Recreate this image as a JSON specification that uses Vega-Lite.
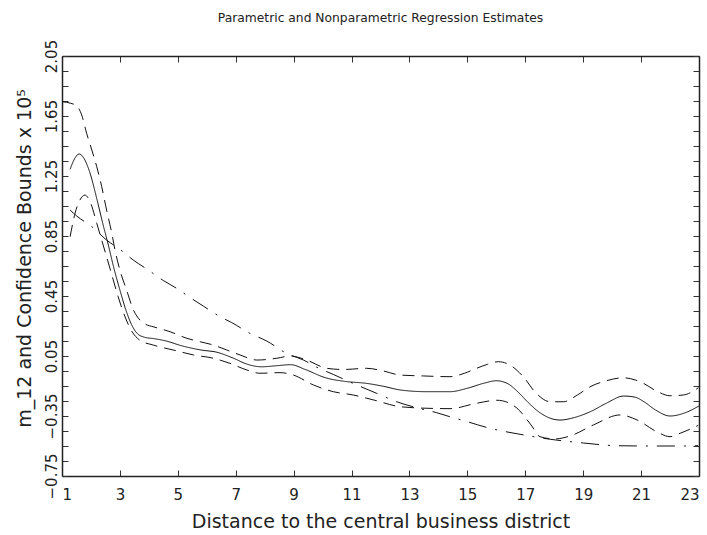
{
  "$schema": "https://vega.github.io/schema/vega-lite/v6.json",
  "width": 637,
  "height": 420,
  "autosize": {"type": "none"},
  "padding": {"left": 62, "top": 56, "right": 8, "bottom": 59},
  "background": "white",
  "title": {
    "text": "Parametric and Nonparametric Regression Estimates",
    "font": "DejaVu Sans",
    "fontSize": 12.3,
    "fontWeight": "normal",
    "color": "#222222",
    "anchor": "middle",
    "frame": "group",
    "baseline": "alphabetic",
    "offset": 5
  },
  "config": {
    "view": {"stroke": null},
    "axis": {
      "domainColor": "#222222",
      "domainWidth": 1.5,
      "tickColor": "#333333",
      "tickWidth": 1,
      "tickSize": -6,
      "grid": false,
      "labelFont": "DejaVu Sans",
      "labelFontSize": 15,
      "labelColor": "#222222",
      "labelOverlap": false,
      "labelBound": false,
      "titleFont": "DejaVu Sans",
      "titleFontSize": 19,
      "titleFontWeight": "normal",
      "titleColor": "#222222"
    }
  },
  "data": {
    "values": [
      {"s": "m", "x": 1.28, "y": 1.295}, {"s": "m", "x": 1.45, "y": 1.37}, {"s": "m", "x": 1.59, "y": 1.397}, {"s": "m", "x": 1.75, "y": 1.37}, {"s": "m", "x": 1.95, "y": 1.28}, {"s": "m", "x": 2.2, "y": 1.1}, {"s": "m", "x": 2.4, "y": 0.94}, {"s": "m", "x": 2.6, "y": 0.79}, {"s": "m", "x": 2.8, "y": 0.63}, {"s": "m", "x": 3.0, "y": 0.49}, {"s": "m", "x": 3.2, "y": 0.36}, {"s": "m", "x": 3.4, "y": 0.26}, {"s": "m", "x": 3.6, "y": 0.2}, {"s": "m", "x": 3.85, "y": 0.175}, {"s": "m", "x": 4.2, "y": 0.165}, {"s": "m", "x": 4.6, "y": 0.15}, {"s": "m", "x": 5.1, "y": 0.12}, {"s": "m", "x": 5.8, "y": 0.09}, {"s": "m", "x": 6.35, "y": 0.075}, {"s": "m", "x": 6.9, "y": 0.037}, {"s": "m", "x": 7.4, "y": -0.005}, {"s": "m", "x": 7.9, "y": -0.022}, {"s": "m", "x": 8.4, "y": -0.015}, {"s": "m", "x": 8.9, "y": -0.008}, {"s": "m", "x": 9.4, "y": -0.04}, {"s": "m", "x": 10.1, "y": -0.095}, {"s": "m", "x": 10.8, "y": -0.12}, {"s": "m", "x": 11.5, "y": -0.132}, {"s": "m", "x": 12.1, "y": -0.152}, {"s": "m", "x": 12.7, "y": -0.177}, {"s": "m", "x": 13.6, "y": -0.188}, {"s": "m", "x": 14.4, "y": -0.188}, {"s": "m", "x": 15.0, "y": -0.165}, {"s": "m", "x": 15.6, "y": -0.13}, {"s": "m", "x": 16.0, "y": -0.115}, {"s": "m", "x": 16.4, "y": -0.135}, {"s": "m", "x": 16.75, "y": -0.19}, {"s": "m", "x": 17.1, "y": -0.26}, {"s": "m", "x": 17.45, "y": -0.32}, {"s": "m", "x": 17.8, "y": -0.36}, {"s": "m", "x": 18.2, "y": -0.377}, {"s": "m", "x": 18.7, "y": -0.36}, {"s": "m", "x": 19.25, "y": -0.321}, {"s": "m", "x": 19.8, "y": -0.265}, {"s": "m", "x": 20.4, "y": -0.217}, {"s": "m", "x": 20.8, "y": -0.225}, {"s": "m", "x": 21.1, "y": -0.255}, {"s": "m", "x": 21.5, "y": -0.31}, {"s": "m", "x": 22.0, "y": -0.35}, {"s": "m", "x": 22.5, "y": -0.33}, {"s": "m", "x": 23.0, "y": -0.283},

      {"s": "upper", "x": 1.0, "y": 1.745}, {"s": "upper", "x": 1.3, "y": 1.735}, {"s": "upper", "x": 1.51, "y": 1.717}, {"s": "upper", "x": 1.68, "y": 1.657}, {"s": "upper", "x": 1.85, "y": 1.535}, {"s": "upper", "x": 2.03, "y": 1.423}, {"s": "upper", "x": 2.2, "y": 1.312}, {"s": "upper", "x": 2.37, "y": 1.18}, {"s": "upper", "x": 2.54, "y": 1.023}, {"s": "upper", "x": 2.72, "y": 0.868}, {"s": "upper", "x": 2.83, "y": 0.757}, {"s": "upper", "x": 3.0, "y": 0.623}, {"s": "upper", "x": 3.23, "y": 0.49}, {"s": "upper", "x": 3.46, "y": 0.36}, {"s": "upper", "x": 3.69, "y": 0.29}, {"s": "upper", "x": 3.9, "y": 0.26}, {"s": "upper", "x": 4.15, "y": 0.245}, {"s": "upper", "x": 4.73, "y": 0.212}, {"s": "upper", "x": 5.31, "y": 0.168}, {"s": "upper", "x": 5.77, "y": 0.145}, {"s": "upper", "x": 6.23, "y": 0.123}, {"s": "upper", "x": 6.69, "y": 0.09}, {"s": "upper", "x": 7.15, "y": 0.057}, {"s": "upper", "x": 7.73, "y": 0.023}, {"s": "upper", "x": 8.42, "y": 0.035}, {"s": "upper", "x": 8.88, "y": 0.05}, {"s": "upper", "x": 9.45, "y": 0.023}, {"s": "upper", "x": 10.14, "y": -0.032}, {"s": "upper", "x": 10.72, "y": -0.04}, {"s": "upper", "x": 11.52, "y": -0.032}, {"s": "upper", "x": 12.1, "y": -0.05}, {"s": "upper", "x": 12.68, "y": -0.077}, {"s": "upper", "x": 13.48, "y": -0.083}, {"s": "upper", "x": 14.4, "y": -0.088}, {"s": "upper", "x": 14.9, "y": -0.065}, {"s": "upper", "x": 15.32, "y": -0.032}, {"s": "upper", "x": 15.7, "y": -0.005}, {"s": "upper", "x": 16.07, "y": 0.012}, {"s": "upper", "x": 16.47, "y": -0.01}, {"s": "upper", "x": 16.93, "y": -0.088}, {"s": "upper", "x": 17.37, "y": -0.197}, {"s": "upper", "x": 17.86, "y": -0.255}, {"s": "upper", "x": 18.32, "y": -0.255}, {"s": "upper", "x": 18.8, "y": -0.21}, {"s": "upper", "x": 19.24, "y": -0.155}, {"s": "upper", "x": 19.8, "y": -0.115}, {"s": "upper", "x": 20.39, "y": -0.095}, {"s": "upper", "x": 20.8, "y": -0.11}, {"s": "upper", "x": 21.08, "y": -0.132}, {"s": "upper", "x": 21.5, "y": -0.18}, {"s": "upper", "x": 22.0, "y": -0.215}, {"s": "upper", "x": 22.46, "y": -0.21}, {"s": "upper", "x": 22.98, "y": -0.161},

      {"s": "lower", "x": 1.28, "y": 0.845}, {"s": "lower", "x": 1.45, "y": 1.001}, {"s": "lower", "x": 1.62, "y": 1.09}, {"s": "lower", "x": 1.79, "y": 1.123}, {"s": "lower", "x": 1.97, "y": 1.079}, {"s": "lower", "x": 2.2, "y": 0.935}, {"s": "lower", "x": 2.37, "y": 0.823}, {"s": "lower", "x": 2.54, "y": 0.712}, {"s": "lower", "x": 2.77, "y": 0.557}, {"s": "lower", "x": 2.94, "y": 0.445}, {"s": "lower", "x": 3.18, "y": 0.31}, {"s": "lower", "x": 3.41, "y": 0.215}, {"s": "lower", "x": 3.69, "y": 0.155}, {"s": "lower", "x": 4.15, "y": 0.123}, {"s": "lower", "x": 4.84, "y": 0.09}, {"s": "lower", "x": 5.54, "y": 0.057}, {"s": "lower", "x": 6.23, "y": 0.035}, {"s": "lower", "x": 6.8, "y": 0.001}, {"s": "lower", "x": 7.38, "y": -0.043}, {"s": "lower", "x": 7.84, "y": -0.065}, {"s": "lower", "x": 8.53, "y": -0.061}, {"s": "lower", "x": 8.99, "y": -0.077}, {"s": "lower", "x": 9.68, "y": -0.143}, {"s": "lower", "x": 10.37, "y": -0.188}, {"s": "lower", "x": 11.06, "y": -0.21}, {"s": "lower", "x": 11.8, "y": -0.245}, {"s": "lower", "x": 12.68, "y": -0.288}, {"s": "lower", "x": 13.71, "y": -0.299}, {"s": "lower", "x": 14.4, "y": -0.301}, {"s": "lower", "x": 15.32, "y": -0.265}, {"s": "lower", "x": 16.02, "y": -0.245}, {"s": "lower", "x": 16.4, "y": -0.26}, {"s": "lower", "x": 16.71, "y": -0.297}, {"s": "lower", "x": 17.2, "y": -0.41}, {"s": "lower", "x": 17.51, "y": -0.488}, {"s": "lower", "x": 18.02, "y": -0.503}, {"s": "lower", "x": 18.55, "y": -0.483}, {"s": "lower", "x": 19.35, "y": -0.41}, {"s": "lower", "x": 20.27, "y": -0.343}, {"s": "lower", "x": 20.89, "y": -0.379}, {"s": "lower", "x": 21.54, "y": -0.455}, {"s": "lower", "x": 22.0, "y": -0.488}, {"s": "lower", "x": 22.35, "y": -0.465}, {"s": "lower", "x": 22.97, "y": -0.413},

      {"s": "param", "x": 1.28, "y": 1.023}, {"s": "param", "x": 1.51, "y": 0.983}, {"s": "param", "x": 2.03, "y": 0.912}, {"s": "param", "x": 2.54, "y": 0.823}, {"s": "param", "x": 3.0, "y": 0.761}, {"s": "param", "x": 3.46, "y": 0.69}, {"s": "param", "x": 3.98, "y": 0.623}, {"s": "param", "x": 4.5, "y": 0.553}, {"s": "param", "x": 4.96, "y": 0.501}, {"s": "param", "x": 5.42, "y": 0.44}, {"s": "param", "x": 5.88, "y": 0.383}, {"s": "param", "x": 6.46, "y": 0.312}, {"s": "param", "x": 6.86, "y": 0.273}, {"s": "param", "x": 7.49, "y": 0.201}, {"s": "param", "x": 8.07, "y": 0.15}, {"s": "param", "x": 8.76, "y": 0.067}, {"s": "param", "x": 9.34, "y": 0.023}, {"s": "param", "x": 9.8, "y": -0.025}, {"s": "param", "x": 10.37, "y": -0.073}, {"s": "param", "x": 11.18, "y": -0.143}, {"s": "param", "x": 11.87, "y": -0.199}, {"s": "param", "x": 12.56, "y": -0.255}, {"s": "param", "x": 13.25, "y": -0.295}, {"s": "param", "x": 13.94, "y": -0.328}, {"s": "param", "x": 14.4, "y": -0.355}, {"s": "param", "x": 14.86, "y": -0.38}, {"s": "param", "x": 15.78, "y": -0.432}, {"s": "param", "x": 16.82, "y": -0.472}, {"s": "param", "x": 17.86, "y": -0.505}, {"s": "param", "x": 19.01, "y": -0.53}, {"s": "param", "x": 20.16, "y": -0.548}, {"s": "param", "x": 21.31, "y": -0.55}, {"s": "param", "x": 22.46, "y": -0.55}, {"s": "param", "x": 22.97, "y": -0.548}
    ]
  },
  "layer": [
    {
      "mark": {"type": "line", "interpolate": "monotone", "stroke": "#111111", "strokeWidth": 1},
      "encoding": {
        "x": {
          "field": "x", "type": "quantitative",
          "scale": {"domain": [1, 23], "nice": false, "zero": false},
          "axis": {
            "orient": "bottom",
            "values": [1, 3, 5, 7, 9, 11, 13, 15, 17, 19, 21, 23],
            "format": "d",
            "labelPadding": 17,
            "title": "Distance to the central business district",
            "titlePadding": 10
          }
        },
        "y": {
          "field": "y", "type": "quantitative",
          "scale": {"domain": [-0.75, 2.05], "nice": false, "zero": false},
          "axis": {
            "orient": "left",
            "values": [-0.75, -0.65, -0.55, -0.45, -0.35, -0.25, -0.15, -0.05, 0.05, 0.15, 0.25, 0.35, 0.45, 0.55, 0.65, 0.75, 0.85, 0.95, 1.05, 1.15, 1.25, 1.35, 1.45, 1.55, 1.65, 1.75, 1.85, 1.95, 2.05],
            "labelExpr": "abs(round((datum.value + 0.75) * 10)) % 4 == 0 ? format(datum.value, '.2f') : ''",
            "labelAngle": 270,
            "labelAlign": "center",
            "labelBaseline": "alphabetic",
            "labelPadding": 12,
            "title": "m_12 and Confidence Bounds  x 10⁵",
            "titlePadding": 10,
            "titleY": 202
          }
        },
        "detail": {"field": "s", "type": "nominal"},
        "strokeDash": {
          "field": "s", "type": "nominal",
          "scale": {"domain": ["m", "upper", "lower", "param"], "range": [[1, 0], [12, 7], [12, 7], [18, 9, 2, 9]]},
          "legend": null
        }
      }
    },
    {
      "mark": {"type": "line", "opacity": 0},
      "encoding": {
        "x": {
          "field": "x", "type": "quantitative",
          "axis": {
            "orient": "top",
            "values": [1, 3, 5, 7, 9, 11, 13, 15, 17, 19, 21, 23],
            "labels": false,
            "title": null
          }
        },
        "y": {
          "field": "y", "type": "quantitative",
          "axis": {
            "orient": "right",
            "values": [-0.75, -0.65, -0.55, -0.45, -0.35, -0.25, -0.15, -0.05, 0.05, 0.15, 0.25, 0.35, 0.45, 0.55, 0.65, 0.75, 0.85, 0.95, 1.05, 1.15, 1.25, 1.35, 1.45, 1.55, 1.65, 1.75, 1.85, 1.95, 2.05],
            "labels": false,
            "title": null
          }
        },
        "detail": {"field": "s", "type": "nominal"}
      }
    }
  ]
}
